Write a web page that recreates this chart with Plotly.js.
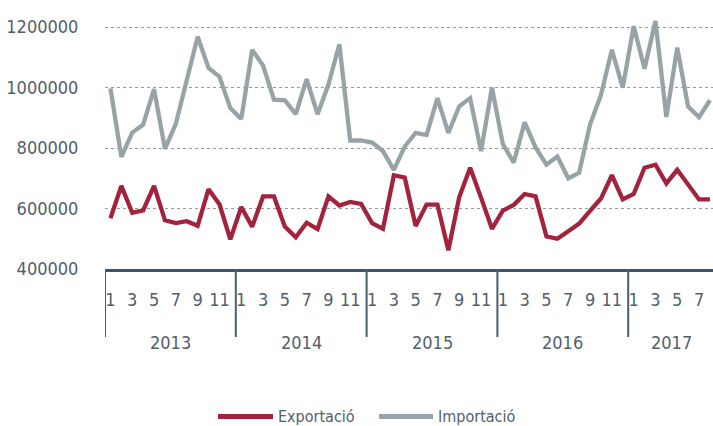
<!DOCTYPE html>
<html>
<head>
<meta charset="utf-8">
<script src="https://cdn.plot.ly/plotly-3.0.1.min.js"></script>
<style>
html,body{margin:0;padding:0;background:#fff;}
#chart{width:713px;height:426px;}
</style>
</head>
<body>
<div id="chart"></div>
<script>
// ---- data ----
var years = ['2013', '2014', '2015', '2016', '2017'];
var monthsInYear = [12, 12, 12, 12, 8];
var monthTickLabels = ['1', '3', '5', '7', '9', '11'];

var exportacio = [
  568000, 675000, 586000, 594000, 675000, 561000, 552000, 558000, 543000, 664000, 614000, 498000,
  605000, 540000, 640000, 640000, 540000, 505000, 553000, 532000, 640000, 610000, 622000, 615000,
  552000, 533000, 710000, 702000, 542000, 613000, 613000, 462000, 638000, 735000, 636000, 533000,
  593000, 612000, 648000, 640000, 508000, 500000, 525000, 550000, 592000, 633000, 710000, 630000,
  648000, 735000, 745000, 683000, 728000, 678000, 630000, 630000
];
var importacio = [
  997000, 771000, 851000, 877000, 995000, 797000, 880000, 1020000, 1168000, 1065000, 1036000, 932000,
  896000, 1125000, 1073000, 960000, 958000, 912000, 1028000, 912000, 1010000, 1143000, 825000, 825000,
  818000, 790000, 728000, 805000, 850000, 843000, 965000, 850000, 938000, 965000, 790000, 1000000,
  813000, 752000, 885000, 802000, 745000, 772000, 700000, 718000, 878000, 975000, 1125000, 1000000,
  1203000, 1062000, 1220000, 903000, 1132000, 937000, 902000, 958000
];
var yTicks = [400000, 600000, 800000, 1000000, 1200000];
var seriesNames = ['Exportació', 'Importació'];
var seriesColors = ['#a3233f', '#97a3a6'];

// ---- build categories ----
var categories = [], tickVals = [], tickText = [];
var yearStart = [];
years.forEach(function (y, yi) {
  yearStart.push(categories.length);
  for (var m = 1; m <= monthsInYear[yi]; m++) {
    var c = y + '-' + m;
    categories.push(c);
    if (monthTickLabels.indexOf(String(m)) >= 0) { tickVals.push(c); tickText.push(String(m)); }
  }
});

var FONT = "'DejaVu Sans Condensed', 'Liberation Sans Narrow', sans-serif";
var TXT = '#51606b';

var traces = [
  {x: categories, y: importacio, name: seriesNames[1], type: 'scatter', mode: 'lines',
   line: {color: seriesColors[1], width: 4.3}, showlegend: false},
  {x: categories, y: exportacio, name: seriesNames[0], type: 'scatter', mode: 'lines',
   line: {color: seriesColors[0], width: 4.3}, showlegend: false}
];

var shapes = [], annotations = [];
var PW = 608;
years.forEach(function (y, yi) {
  var s = yearStart[yi];
  shapes.push({type: 'line', xref: 'x', yref: 'paper', x0: s - 0.5, x1: s - 0.5, y0: 0, y1: -0.271,
               line: {color: '#4a5f6e', width: 2}});
  annotations.push({xref: 'x', yref: 'paper', x: s + (monthsInYear[yi] - 1) / 2, y: -0.293,
                    text: y, showarrow: false, xanchor: 'center', yanchor: 'middle',
                    font: {family: FONT, size: 18, color: TXT}});
});
// custom legend
function px(v) { return (v - 105) / PW; }
var legY = -0.588;
var legItems = [[218, 273, 276], [379, 433, 436]];
[0, 1].forEach(function (i) {
  shapes.push({type: 'line', xref: 'paper', yref: 'paper', x0: px(legItems[i][0]), x1: px(legItems[i][1]),
               y0: legY, y1: legY, line: {color: seriesColors[i], width: 5}});
  annotations.push({xref: 'paper', yref: 'paper', x: px(legItems[i][2]), y: legY, text: seriesNames[i],
                    showarrow: false, xanchor: 'left', yanchor: 'middle',
                    font: {family: FONT, size: 16, color: TXT}});
});

var layout = {
  width: 713, height: 426,
  margin: {l: 105, r: 0, t: 18, b: 157, pad: 0},
  paper_bgcolor: '#fff', plot_bgcolor: '#fff',
  showlegend: false,
  font: {family: FONT, color: TXT},
  xaxis: {
    type: 'category', range: [-0.5, 55.28],
    showline: true, linecolor: '#3d5566', linewidth: 3,
    showgrid: false, zeroline: false,
    tickmode: 'array', tickvals: tickVals, ticktext: tickText,
    ticks: 'outside', ticklen: 12, tickcolor: 'rgba(0,0,0,0)',
    tickfont: {family: FONT, size: 18, color: TXT}
  },
  yaxis: {
    range: [400000, 1230000],
    tickmode: 'array', tickvals: yTicks, ticktext: yTicks.map(String),
    showgrid: true, gridcolor: '#9a9a9a', griddash: 'dot', gridwidth: 1,
    zeroline: false, showline: false,
    ticks: 'outside', ticklen: 22, tickcolor: 'rgba(0,0,0,0)',
    tickfont: {family: FONT, size: 18, color: TXT}
  },
  shapes: shapes,
  annotations: annotations
};

Plotly.newPlot('chart', traces, layout, {displayModeBar: false, staticPlot: true});
</script>
</body>
</html>
